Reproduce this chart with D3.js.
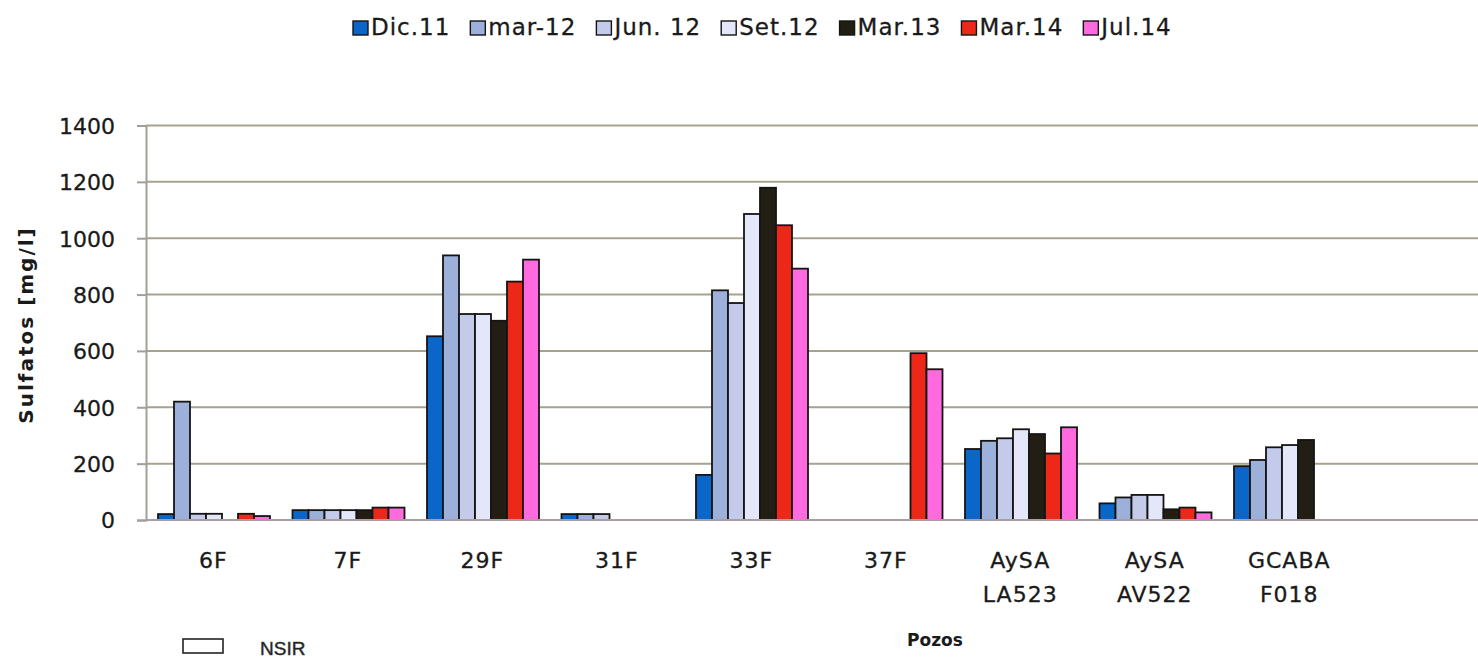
<!DOCTYPE html>
<html>
<head>
<meta charset="utf-8">
<script src="https://cdn.jsdelivr.net/npm/d3@7"></script>
<style>
  html, body { margin: 0; padding: 0; background: #fff; }
  svg { display: block; }
  text { font-family: "DejaVu Sans", Verdana, sans-serif; fill: #1a1a1a; }
</style>
</head>
<body>
<svg id="chart" width="1478" height="661"></svg>
<script>
// ---- data ----
const categories = ["6F", "7F", "29F", "31F", "33F", "37F", "AySA LA523", "AySA AV522", "GCABA F018", ""];
const seriesNames = ["Dic.11", "mar-12", "Jun. 12", "Set.12", "Mar.13", "Mar.14", "Jul.14"];
const dic11 = [21, 35, 652, 21, 160, null, 252, 59, 191, null];
const mar12 = [420, 35, 939, 21, 815, null, 281, 80, 213, null];
const jun12 = [22, 35, 731, 21, 770, null, 290, 89, 258, null];
const set12 = [22, 35, 731, null, 1086, null, 322, 89, 266, null];
const mar13 = [null, 35, 707, null, 1179, null, 305, 38, 284, null];
const mar14 = [22, 44, 846, null, 1046, 592, 236, 44, null, null];
const jul14 = [14, 44, 924, null, 892, 535, 329, 27, null, null];
const seriesValues = [dic11, mar12, jun12, set12, mar13, mar14, jul14];
const yTicks = [0, 200, 400, 600, 800, 1000, 1200, 1400];
const colors = ["#0a66c8", "#9cb0da", "#c4cbea", "#e4e6fa", "#221e14", "#ee2818", "#ff6ade"];

(function () {
// ---- layout ----
const svg = d3.select("#chart");
const W = 1478;
const plotLeft = 146, plotBottom = 520, plotTop = 125.5;
const step = 134.5;

const x0 = d3.scaleBand().domain(categories).range([plotLeft, plotLeft + step * categories.length]).padding(0);
const x1 = d3.scaleBand().domain(seriesNames).range([12, 124]).padding(0);
const y = d3.scaleLinear().domain([0, 1400]).range([plotBottom, plotTop]);
const color = d3.scaleOrdinal().domain(seriesNames).range(colors);

// gridlines
svg.append("g").selectAll("line").data(yTicks.filter(t => t > 0)).join("line")
  .attr("x1", plotLeft).attr("x2", W)
  .attr("y1", d => y(d)).attr("y2", d => y(d))
  .attr("stroke", "#a6a290").attr("stroke-width", 2);

// bars
const rows = [];
categories.forEach((c, i) => {
  seriesNames.forEach((s, j) => {
    const v = seriesValues[j][i];
    if (v !== null && v !== undefined) rows.push({ cat: c, series: s, value: v });
  });
});
svg.append("g").selectAll("rect").data(rows).join("rect")
  .attr("x", d => x0(d.cat) + x1(d.series))
  .attr("width", x1.bandwidth())
  .attr("y", d => y(d.value))
  .attr("height", d => y(0) - y(d.value))
  .attr("fill", d => color(d.series))
  .attr("stroke", "#141414")
  .attr("stroke-width", 1.8);

// x axis baseline
svg.append("line").attr("x1", plotLeft).attr("x2", W).attr("y1", plotBottom).attr("y2", plotBottom)
  .attr("stroke", "#a8a0a0").attr("stroke-width", 2);

// y axis
const yAxis = d3.axisLeft(y).tickValues(yTicks).tickSize(9).tickPadding(22).tickFormat(d3.format("d"));
const gy = svg.append("g").attr("transform", `translate(${plotLeft},0)`).call(yAxis);
gy.select(".domain").attr("stroke", "#a0a098").attr("stroke-width", 2);
gy.selectAll(".tick line").attr("stroke", "#a0a098").attr("stroke-width", 2);
gy.selectAll(".tick text")
  .attr("font-family", "DejaVu Sans, Verdana, sans-serif")
  .attr("font-size", 22).attr("fill", "#1a1a1a").attr("dy", "0.36em")
  .attr("stroke", "#1a1a1a").attr("stroke-width", 0.3);

// x labels
const xl = svg.append("g");
categories.forEach(c => {
  if (!c) return;
  const parts = c.split(" ");
  const cx = x0(c) + x0.bandwidth() / 2;
  parts.forEach((p, k) => {
    xl.append("text").attr("x", cx).attr("y", 568 + k * 34)
      .attr("text-anchor", "middle").attr("font-size", 22)
      .attr("stroke", "#1a1a1a").attr("stroke-width", 0.3)
      .attr("letter-spacing", 1).text(p);
  });
});

// y title
svg.append("text")
  .attr("transform", "translate(33,325) rotate(-90)")
  .attr("text-anchor", "middle").attr("font-weight", "bold")
  .attr("font-size", 20).attr("letter-spacing", 2)
  .text("Sulfatos [mg/l]");

// x title
svg.append("text").attr("x", 935).attr("y", 646).attr("text-anchor", "middle")
  .attr("font-weight", "bold").attr("font-size", 17).text("Pozos");

// legend
const lg = svg.append("g");
let lx = 353;
seriesNames.forEach(s => {
  lg.append("rect").attr("x", lx).attr("y", 21).attr("width", 15).attr("height", 14)
    .attr("fill", color(s)).attr("stroke", "#141414").attr("stroke-width", 1.4);
  const t = lg.append("text").attr("x", lx + 18).attr("y", 34.5)
    .attr("font-size", 23).attr("letter-spacing", 1)
    .attr("stroke", "#1a1a1a").attr("stroke-width", 0.3).text(s);
  lx = lx + 18 + t.node().getComputedTextLength() + 20;
});

// NSIR box
svg.append("rect").attr("x", 183).attr("y", 639).attr("width", 40).attr("height", 14)
  .attr("fill", "#fff").attr("stroke", "#222").attr("stroke-width", 1.6);
svg.append("text").attr("x", 260).attr("y", 655)
  .style("font-family", "'Liberation Sans', Arial, sans-serif")
  .attr("font-size", 19).attr("fill", "#444")
  .attr("stroke", "#444").attr("stroke-width", 0.5).text("NSIR");
})();
</script>
</body>
</html>
